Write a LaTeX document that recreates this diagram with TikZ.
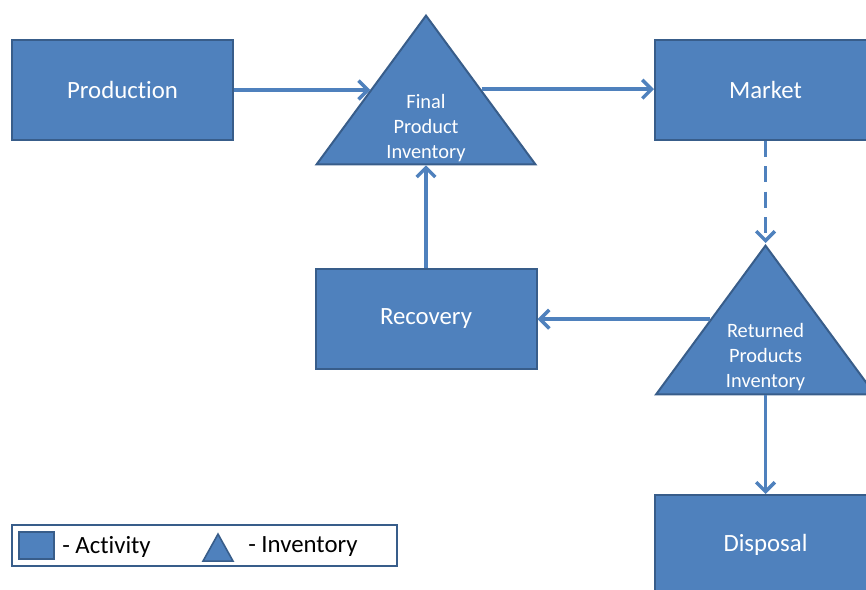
\documentclass[tikz,border=0pt]{standalone}
\usepackage{fontspec}
\setmainfont{Carlito}[Ligatures=NoCommon]
\usetikzlibrary{
  shapes.geometric,
  arrows.meta,
  positioning
}
\definecolor{BoxBlue}{RGB}{79, 129, 189}
\definecolor{EdgeBlue}{RGB}{56, 93, 138}
\tikzset{
    activity/.style={rectangle, fill=BoxBlue, draw=EdgeBlue, line width=1.5pt,
        minimum width=165.75pt, minimum height=75pt, text=white,
        font=\fontsize{18.6}{22}\selectfont},
    inventory/.style={isosceles triangle, isosceles triangle stretches,
        shape border rotate=90, fill=BoxBlue, draw=EdgeBlue, line width=1.5pt,
        minimum width=164pt, minimum height=111.5pt, inner sep=0pt},
    invtext/.style={text=white, align=center, font=\fontsize{15.3}{18.75}\selectfont},
    flow/.style={draw=BoxBlue, line width=2.6pt, -{Straight Barb[length=7pt,width=14pt]}},
    legtext/.style={anchor=west, inner sep=0pt, font=\fontsize{18.6}{22}\selectfont},
}

\begin{document}
\begin{tikzpicture}[x=0.75pt, y=-0.75pt]
    \useasboundingbox (0,0) rectangle (866,589);

    % activities
    \node[activity] (production) at (122.5,90) {Production};
    \node[activity] (market) at (765.5,90) {Market};
    \node[activity] (recovery) at (426,318.5) {Recovery};
    \node[activity] (disposal) at (765.5,545) {Disposal};

    % inventories
    \node[inventory, anchor=apex] (finalinv) at (426,13) {};
    \node[invtext] (finaltext) at (426,128) {Final\\Product\\Inventory};
    \node[inventory, anchor=apex] (retinv) at (765.5,243) {};
    \node[invtext] (rettext) at (765.5,357) {Returned\\Products\\Inventory};

    % flows
    \draw[flow] (production.east) -- (production.east -| finalinv.left side);
    \draw[flow] (finalinv.right side) -- (finalinv.right side -| market.west);
    \draw[flow] (recovery.north) -- (finalinv.lower side);
    \draw[flow, dash pattern=on 12pt off 7pt] (market.south) -- (retinv.apex);
    \draw[flow] (retinv.left side) -- (retinv.left side -| recovery.east);
    \draw[flow] (retinv.lower side) -- (disposal.north);

    % legend
    \node[draw=EdgeBlue, line width=1.5pt, minimum width=288.75pt, minimum height=30.75pt, inner sep=0pt] (legend) at (204.5,545.5) {};
    \node[activity, minimum width=26pt, minimum height=20pt, line width=1.2pt] (legbox) at (36.5,545.5) {};
    \node[legtext] (legact) at (62,547) {- Activity};
    \node[inventory, minimum width=22.5pt, minimum height=20.25pt, line width=1.2pt, anchor=apex] (legtri) at (218,532) {};
    \node[legtext] (leginv) at (248,547) {- Inventory};
\end{tikzpicture}
\end{document}
